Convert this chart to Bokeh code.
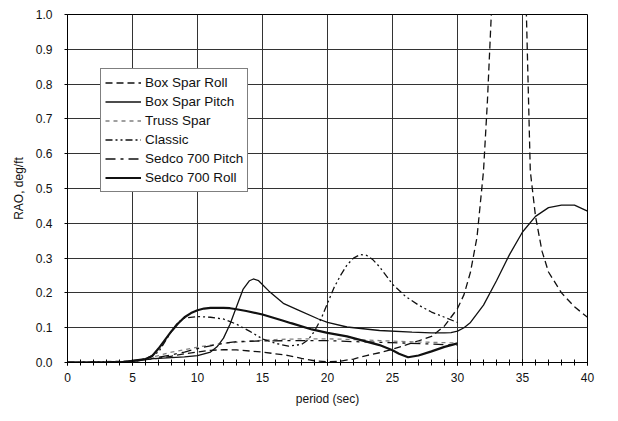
from bokeh.plotting import figure
from bokeh.models import FixedTicker, Legend, LegendItem, Range1d
from bokeh.embed import file_html
from bokeh.resources import INLINE

# ---- data ----
box_roll_x = [0, 3, 5, 6, 7, 8, 9, 10, 11, 12, 13, 14, 15, 16, 17, 18, 19, 20, 21, 22, 23, 24, 25, 26, 27,
              28, 29, 29.5, 30, 30.5, 31, 31.5, 32, 32.3, 32.6, 34, 35.3, 35.6, 36, 36.5, 37, 38, 39, 40]
box_roll_y = [0, 0, 0.003, 0.008, 0.012, 0.018, 0.025, 0.03, 0.035, 0.037, 0.036, 0.033, 0.03, 0.025, 0.02,
              0.012, 0.005, 0.002, 0.004, 0.01, 0.02, 0.028, 0.038, 0.05, 0.062, 0.075, 0.105, 0.13, 0.155,
              0.195, 0.26, 0.36, 0.55, 0.75, 1.0, 2.0, 1.0, 0.55, 0.42, 0.32, 0.26, 0.2, 0.16, 0.13]

box_pitch_x = [0, 4, 5, 6, 7, 8, 9, 10, 10.5, 11, 11.5, 12, 12.5, 13, 13.5, 14, 14.3, 14.7, 15.5, 16.6, 17.8,
               19.3, 20, 21.5, 24, 26.5, 28, 29, 29.5, 30, 30.5, 31, 32, 33, 34, 35, 36, 37, 38, 39, 40]
box_pitch_y = [0, 0, 0.005, 0.01, 0.012, 0.014, 0.016, 0.02, 0.025, 0.03, 0.045, 0.07, 0.11, 0.16, 0.21,
               0.235, 0.24, 0.235, 0.205, 0.17, 0.15, 0.125, 0.115, 0.102, 0.092, 0.087, 0.085, 0.085, 0.086,
               0.09, 0.1, 0.115, 0.165, 0.235, 0.31, 0.375, 0.42, 0.445, 0.452, 0.452, 0.435]

truss_x = [0, 5, 6, 6.5, 7, 8, 9, 10, 11, 12, 14, 16, 18, 20, 22, 24, 26, 28, 30]
truss_y = [0, 0.005, 0.01, 0.015, 0.02, 0.03, 0.037, 0.044, 0.05, 0.055, 0.061, 0.066, 0.068, 0.068, 0.066,
           0.063, 0.06, 0.058, 0.056]

classic_x = [0, 5, 6, 7, 7.5, 8, 8.5, 9, 10, 11, 12, 13, 14, 15, 16, 17, 18, 18.5, 19, 19.5, 20, 20.5, 21,
             21.5, 22, 22.5, 23, 23.5, 24, 25, 26, 27, 28, 29, 30]
classic_y = [0, 0.003, 0.01, 0.03, 0.06, 0.09, 0.115, 0.128, 0.132, 0.13, 0.125, 0.11, 0.09, 0.068, 0.055,
             0.047, 0.052, 0.065, 0.09, 0.125, 0.17, 0.215, 0.25, 0.28, 0.3, 0.31, 0.308, 0.295, 0.275, 0.225,
             0.19, 0.165, 0.145, 0.13, 0.115]

sedco_pitch_x = [0, 5, 6, 7, 8, 9, 10, 11, 12, 13, 15, 18, 20, 22, 25, 28, 30]
sedco_pitch_y = [0, 0.002, 0.008, 0.015, 0.022, 0.03, 0.04, 0.048, 0.055, 0.06, 0.062, 0.063, 0.063, 0.06,
                 0.057, 0.053, 0.05]

sedco_roll_x = [0, 4, 5, 6, 6.5, 7, 7.5, 8, 8.5, 9, 9.5, 10, 10.5, 11, 12, 12.5, 13, 13.75, 15, 16.6, 17.2,
                18.8, 20, 21.5, 23, 24, 25, 25.5, 26.2, 27, 28, 29, 30]
sedco_roll_y = [0, 0, 0.005, 0.01, 0.018, 0.04, 0.065, 0.09, 0.112, 0.13, 0.142, 0.15, 0.155, 0.157, 0.157,
                0.156, 0.153, 0.148, 0.138, 0.12, 0.113, 0.095, 0.085, 0.075, 0.06, 0.05, 0.035, 0.025, 0.015,
                0.02, 0.032, 0.045, 0.055]

x_ticks = [0, 5, 10, 15, 20, 25, 30, 35, 40]
x_minor = list(range(0, 41))
y_ticks = [0.0, 0.1, 0.2, 0.3, 0.4, 0.5, 0.6, 0.7, 0.8, 0.9, 1.0]
y_tick_labels = ["0.0", "0.1", "0.2", "0.3", "0.4", "0.5", "0.6", "0.7", "0.8", "0.9", "1.0"]

FONT = "Liberation Sans"

p = figure(frame_width=520, frame_height=348, x_range=Range1d(0, 40), y_range=Range1d(0, 1),
           output_backend="svg", toolbar_location=None,
           min_border_left=67, min_border_right=20, min_border_top=14, min_border_bottom=50)
p.background_fill_color = "white"
p.border_fill_color = "white"
p.outline_line_color = "black"
p.outline_line_width = 1

# axes
p.xaxis.ticker = FixedTicker(ticks=x_ticks, minor_ticks=x_minor)
p.yaxis.ticker = FixedTicker(ticks=y_ticks)
p.yaxis.major_label_overrides = dict(zip(y_ticks, y_tick_labels))
for ax in (p.xaxis, p.yaxis):
    ax.axis_line_color = "black"
    ax.major_tick_line_color = "black"
    ax.minor_tick_line_color = "black"
    ax.major_label_text_font = FONT
    ax.major_label_text_font_size = "12px"
    ax.major_label_text_color = "#111111"
    ax.axis_label_text_font = FONT
    ax.axis_label_text_font_size = "12px"
    ax.axis_label_text_font_style = "normal"
    ax.axis_label_text_color = "#111111"

p.xaxis.axis_label = "period (sec)"
p.xaxis.major_tick_in = 3
p.xaxis.major_tick_out = 3
p.xaxis.minor_tick_in = 3
p.xaxis.minor_tick_out = 3
p.xaxis.major_label_standoff = 7
p.xaxis.axis_label_standoff = 7

p.yaxis.axis_label = "RAO, deg/ft"
p.yaxis.major_tick_in = 0
p.yaxis.major_tick_out = 3
p.yaxis.minor_tick_line_color = None
p.yaxis.major_label_standoff = 12
p.yaxis.axis_label_standoff = 7

p.xgrid.grid_line_color = "#333333"
p.ygrid.grid_line_color = "#333333"
p.xgrid.grid_line_width = 1
p.ygrid.grid_line_width = 1

# series
r1 = p.line(box_roll_x, box_roll_y, line_color="#111111", line_width=1.3, line_dash="7 4")
r2 = p.line(box_pitch_x, box_pitch_y, line_color="#111111", line_width=1.3)
r3 = p.line(truss_x, truss_y, line_color="#808080", line_width=1.3, line_dash="4 4")
r4 = p.line(classic_x, classic_y, line_color="#111111", line_width=1.3, line_dash="7 3 2 3 2 3")
r5 = p.line(sedco_pitch_x, sedco_pitch_y, line_color="#111111", line_width=1.3, line_dash="10 5 3 5")
r6 = p.line(sedco_roll_x, sedco_roll_y, line_color="#111111", line_width=2.2)

legend = Legend(items=[
    LegendItem(label="Box Spar Roll", renderers=[r1]),
    LegendItem(label="Box Spar Pitch", renderers=[r2]),
    LegendItem(label="Truss Spar", renderers=[r3]),
    LegendItem(label="Classic", renderers=[r4]),
    LegendItem(label="Sedco 700 Pitch", renderers=[r5]),
    LegendItem(label="Sedco 700 Roll", renderers=[r6]),
], location=(33, 170))
legend.border_line_color = "black"
legend.border_line_width = 1
legend.background_fill_color = "white"
legend.background_fill_alpha = 1
legend.padding = 4
legend.spacing = 0
legend.margin = 0
legend.glyph_width = 36
legend.glyph_height = 19
legend.label_height = 19
legend.label_standoff = 4
legend.label_text_font = FONT
legend.label_text_font_size = "13.5px"
legend.label_text_color = "#111111"
p.add_layout(legend, "center")

open("out.html", "w").write(file_html(p, INLINE))
